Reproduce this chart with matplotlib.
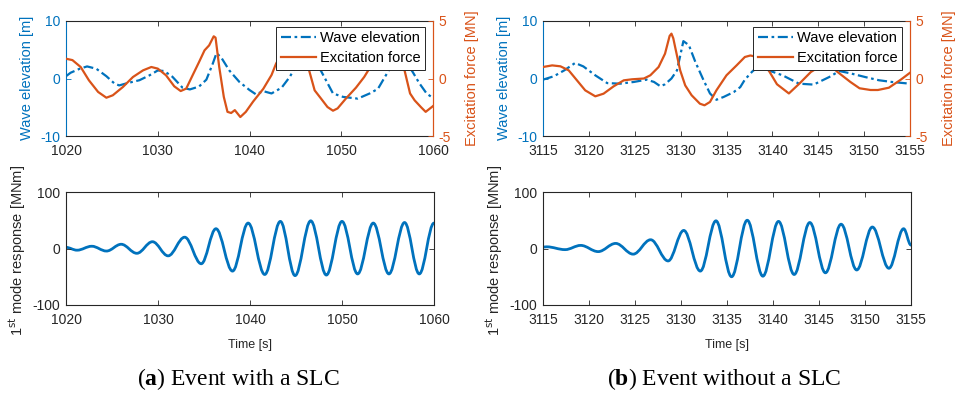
import matplotlib
matplotlib.use('Agg')
import matplotlib.pyplot as plt
from matplotlib.path import Path
from matplotlib.patches import PathPatch

plt.rcParams['font.family'] = ['Liberation Sans', 'DejaVu Sans']
plt.rcParams['mathtext.fontset'] = 'custom'
plt.rcParams['mathtext.rm'] = 'Liberation Serif'
plt.rcParams['mathtext.bf'] = 'Liberation Serif:bold'
plt.rcParams['axes.unicode_minus'] = False

BLUE = '#0072BD'
ORANGE = '#D95319'
GRAY = '#262626'

# ---- (a) event with a SLC: wave elevation [m] and excitation force [MN]
wave_t_a = [1020.0, 1020.5, 1021.5, 1022.3, 1023.3, 1024.4, 1025.3, 1025.8, 1026.7, 1028.0,
            1029.1, 1030.0, 1030.7, 1031.6, 1032.7, 1033.5, 1034.5, 1035.3, 1036.0, 1036.4,
            1036.9, 1037.8, 1038.9, 1040.0, 1040.7, 1041.5, 1042.4, 1043.5, 1044.4, 1045.3,
            1046.4, 1047.8, 1049.1, 1050.2, 1051.8, 1053.1, 1054.0, 1055.1, 1056.4, 1057.8,
            1058.5, 1059.3, 1060.0]
wave_a = [0.4, 1.0, 1.7, 2.1, 1.7, 0.4, -0.9, -1.2, -0.8, -0.3,
          0.55, 1.4, 1.3, 0.3, -1.6, -1.9, -1.4, -0.2, 2.6, 4.4,
          3.7, 1.4, -0.6, -2.0, -2.75, -2.2, -2.6, -1.6, 0.3, 2.9,
          4.3, 1.3, -2.6, -3.2, -3.5, -2.6, -1.8, 1.2, 4.5, 1.1,
          -0.8, -2.6, -3.4]

force_t_a = [1020.0, 1020.7, 1021.6, 1022.5, 1023.5, 1024.4, 1025.1, 1026.2, 1027.3, 1028.4,
             1029.3, 1030.0, 1030.9, 1031.8, 1032.5, 1033.1, 1033.8, 1034.5, 1035.1, 1035.6,
             1036.1, 1036.3, 1036.7, 1037.2, 1037.6, 1038.0, 1038.4, 1039.0, 1039.6, 1040.4,
             1041.5, 1042.4, 1042.9, 1043.8, 1044.8, 1045.5, 1046.0, 1046.5, 1047.1, 1047.8,
             1048.5, 1049.1, 1049.6, 1050.5, 1051.6, 1052.5, 1052.9, 1053.8, 1055.0, 1056.0,
             1056.5, 1056.9, 1057.5, 1058.0, 1058.7, 1059.2, 1060.0]
force_a = [1.72, 1.6, 1.0, -0.16, -1.17, -1.67, -1.46, -0.74, 0.13, 0.71,
           1.0, 0.86, 0.28, -0.68, -1.09, -0.88, 0.28, 1.43, 2.45, 2.88,
           3.67, 3.55, 1.0, -1.6, -2.9, -3.0, -2.75, -3.35, -2.9, -2.0,
           -0.9, 0.3, 1.3, 2.6, 3.2, 3.0, 2.0, 0.7, -1.03, -1.75,
           -2.48, -2.8, -2.6, -1.75, -0.8, 0.13, 0.65, 1.9, 3.0, 2.8,
           1.8, 0.7, -1.3, -1.9, -2.5, -2.9, -2.4]

# 1st mode response [MNm]: peaks and troughs
resp_t_a = [1020.0, 1021.2, 1022.8, 1024.4, 1026.0, 1027.7, 1029.4, 1031.1, 1032.9, 1034.7,
            1036.3, 1038.1, 1039.8, 1041.6, 1043.3, 1044.9, 1046.6, 1048.3, 1050.0, 1051.7,
            1053.4, 1055.1, 1056.8, 1058.4, 1060.0]
resp_a = [2, -3, 4, -4.5, 7.5, -8.5, 12, -13, 20, -27,
          35, -40, 45, -46, 48, -48, 49, -47, 48, -45,
          45, -45, 46, -45, 45]

# ---- (b) event without a SLC
wave_t_b = [3115.0, 3116.2, 3117.3, 3118.5, 3119.4, 3120.7, 3122.0, 3123.4, 3124.9, 3126.3,
            3127.1, 3127.8, 3128.3, 3129.0, 3129.6, 3130.0, 3130.3, 3130.9, 3131.6, 3132.5,
            3133.2, 3133.9, 3134.7, 3135.8, 3136.5, 3137.0, 3137.8, 3138.7, 3139.6, 3141.1,
            3142.9, 3144.5, 3146.2, 3147.3, 3148.5, 3150.1, 3151.6, 3153.0, 3155.0]
wave_b = [-0.2, 0.4, 1.4, 2.7, 2.1, 0.55, -0.8, -0.9, -0.6, -0.2,
          -0.6, -1.36, -1.0, 0.0, 1.4, 4.3, 6.5, 5.8, 2.9, -0.3,
          -2.6, -3.7, -3.2, -2.35, -1.5, -0.2, 1.2, 2.4, 1.4, 0.56,
          -0.9, -1.06, 0.26, 1.3, 0.9, 0.26, -0.3, -0.6, -0.9]

force_t_b = [3115.0, 3116.0, 3116.9, 3117.8, 3118.7, 3119.6, 3120.7, 3121.6, 3122.7, 3123.8,
             3124.7, 3126.0, 3126.7, 3127.6, 3128.3, 3128.8, 3129.0, 3129.2, 3129.4, 3129.95,
             3130.5, 3131.2, 3132.1, 3132.6, 3133.2, 3133.9, 3135.0, 3136.1, 3137.0, 3137.6,
             3138.2, 3138.9, 3139.6, 3140.5, 3141.8, 3143.0, 3144.2, 3145.5, 3146.5, 3147.1,
             3148.5, 3149.5, 3150.7, 3151.5, 3152.7, 3154.0, 3155.0]
force_b = [1.0, 1.14, 1.06, 0.71, -0.16, -1.03, -1.55, -1.32, -0.68, -0.16,
           -0.07, 0.0, 0.28, 1.0, 2.16, 3.7, 3.9, 3.5, 2.74, 0.71,
           -0.6, -1.46, -2.19, -2.33, -2.04, -1.03, 0.28, 1.14, 1.87, 2.0,
           1.9, 1.4, 0.7, -0.5, -1.3, -0.4, 0.57, 1.2, 1.0, 0.57,
           -0.3, -0.85, -1.0, -1.0, -0.8, -0.1, 0.5]

resp_t_b = [3115.0, 3115.4, 3117.4, 3119.1, 3121.0, 3122.9, 3124.8, 3126.7, 3128.6, 3130.3,
            3132.1, 3133.8, 3135.5, 3137.2, 3138.9, 3140.6, 3142.3, 3144.0, 3145.7, 3147.4,
            3149.1, 3150.8, 3152.6, 3154.2, 3155.0]
resp_b = [2.5, 3, -2, 5.5, -5.5, 9, -10, 15.5, -22, 32,
          -40, 49, -50, 50, -49, 48, -46, 46, -43, 43,
          -38, 38, -35, 35, 6]

xticks_a = [1020, 1030, 1040, 1050, 1060]
xticks_b = [3115, 3120, 3125, 3130, 3135, 3140, 3145, 3150, 3155]
captions = [r'($\mathbf{a}$) Event with a SLC', r'($\mathbf{b}$) Event without a SLC']

W, H = 959, 396
fig = plt.figure(figsize=(W / 100, H / 100), dpi=100)


def box(x0, y0, x1, y1):
    # pixel box (top-left origin) -> figure fraction rect
    return [x0 / W, 1 - y1 / H, (x1 - x0) / W, (y1 - y0) / H]


def extrema_path(t, v):
    # smooth curve through successive peaks/troughs (flat tangent at each one)
    verts = [(t[0], v[0])]
    codes = [Path.MOVETO]
    for i in range(len(t) - 1):
        d = t[i + 1] - t[i]
        verts += [(t[i] + 0.3642 * d, v[i]), (t[i + 1] - 0.3642 * d, v[i + 1]),
                  (t[i + 1], v[i + 1])]
        codes += [Path.CURVE4] * 3
    return Path(verts, codes)


def style(ax, xticks, left_col=GRAY, right_col=GRAY):
    ax.set_xlim(xticks[0], xticks[-1])
    ax.set_xticks(xticks)
    for s in ax.spines.values():
        s.set_linewidth(0.8)
        s.set_color(GRAY)
    ax.spines['left'].set_color(left_col)
    ax.spines['right'].set_color(right_col)
    ax.tick_params(direction='in', length=3.5, width=0.6, labelsize=10,
                   top=True, colors=GRAY)
    ax.tick_params(axis='x', pad=6)
    ax.tick_params(axis='y', colors=left_col, pad=4)


def top_panel(rect, wt, wv, ft, fv, xticks):
    ax = fig.add_axes(rect)
    ax.plot(wt, wv, color=BLUE, lw=1.6, dashes=[4.5, 1.6, 1.2, 1.6],
            solid_joinstyle='round', label='Wave elevation')
    ax.set_ylim(-10, 10)
    ax.set_yticks([-10, 0, 10])
    style(ax, xticks, BLUE, ORANGE)
    ax2 = ax.twinx()
    ax2.plot(ft, fv, color=ORANGE, lw=1.6, solid_joinstyle='round',
             label='Excitation force')
    ax2.set_ylim(-5, 5)
    ax2.set_yticks([-5, 0, 5])
    for s in ax2.spines.values():
        s.set_visible(False)
    ax2.spines['right'].set_visible(True)
    ax2.spines['right'].set_color(ORANGE)
    ax2.spines['right'].set_linewidth(0.8)
    ax2.tick_params(direction='in', length=3.5, width=0.6, labelsize=10,
                    colors=ORANGE, pad=4)
    h1, l1 = ax.get_legend_handles_labels()
    h2, l2 = ax2.get_legend_handles_labels()
    leg = ax2.legend(h1 + h2, l1 + l2, loc='upper right',
                     bbox_to_anchor=(0.978, 0.948), borderaxespad=0,
                     fontsize=10.5, handlelength=2.4, handletextpad=0.3,
                     labelspacing=0.4, borderpad=0.3, fancybox=False,
                     framealpha=1, edgecolor=GRAY)
    leg.get_frame().set_linewidth(0.7)
    return ax


def bottom_panel(rect, t, v, xticks):
    ax = fig.add_axes(rect)
    ax.add_patch(PathPatch(extrema_path(t, v), fill=False, edgecolor=BLUE,
                           lw=2.0, capstyle='round', joinstyle='round'))
    ax.set_ylim(-100, 100)
    ax.set_yticks([-100, 0, 100])
    style(ax, xticks)
    ax.tick_params(axis='y', right=True)
    return ax


top_panel(box(66, 21, 433, 136), wave_t_a, wave_a, force_t_a, force_a, xticks_a)
top_panel(box(543, 21, 910, 136), wave_t_b, wave_b, force_t_b, force_b, xticks_b)
bottom_panel(box(66, 192, 434, 305), resp_t_a, resp_a, xticks_a)
bottom_panel(box(543, 192, 911, 305), resp_t_b, resp_b, xticks_b)

for x0 in (0, 477):
    fig.text((x0 + 27) / W, 1 - 78 / H, 'Wave elevation [m]', rotation=90,
             ha='center', va='center', color=BLUE, fontsize=10.5)
    fig.text((x0 + 472) / W, 1 - 78 / H, 'Excitation force [MN]', rotation=90,
             ha='center', va='center', color=ORANGE, fontsize=10.5)
    fig.text((x0 + 17) / W, 1 - 250 / H, r'1$^{\mathsf{st}}$ mode response [MNm]',
             rotation=90, ha='center', va='center', color=GRAY, fontsize=10.5)
    fig.text((x0 + 250) / W, 1 - 345 / H, 'Time [s]', ha='center', va='center',
             color=GRAY, fontsize=9)

for cx, cap in zip((238, 724), captions):
    fig.text(cx / W, 1 - 379 / H, cap, ha='center', va='center',
             fontsize=17, family='Liberation Serif', color='black')

fig.savefig('out.png', dpi=100)
